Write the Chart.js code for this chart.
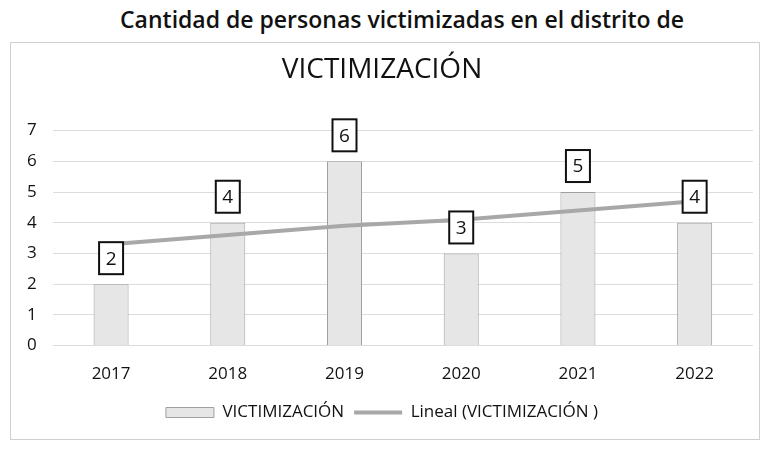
<!DOCTYPE html>
<html>
<head>
<meta charset="utf-8">
<script src="https://cdn.jsdelivr.net/npm/chart.js@4"></script>
<style>
  body { margin: 0; background: #fff; width: 779px; height: 450px; overflow: hidden; position: relative; font-family: "Open Sans", sans-serif; }
  #caption { position: absolute; left: 120px; top: 3px; font-size: 23px; font-weight: 600; color: #111; white-space: nowrap; }
  #box { position: absolute; left: 10px; top: 42px; width: 748px; height: 396px; border: 1px solid #d0d0d0; }
</style>
</head>
<body>
<div id="caption">Cantidad de personas victimizadas en el distrito de</div>
<div id="box"><canvas id="myChart"></canvas></div>
<script>
var years = ["2017", "2018", "2019", "2020", "2021", "2022"];
var victimizacion = [2, 4, 6, 3, 5, 4];
var lineal = [3.3, 3.6, 3.9, 4.1, 4.4, 4.7];

// boxed value labels above the bars
var boxLabels = {
  id: "boxLabels",
  afterDatasetsDraw(chart) {
    var ctx = chart.ctx;
    var meta = chart.getDatasetMeta(0);
    ctx.save();
    ctx.font = "19px 'Open Sans'";
    ctx.textAlign = "center";
    ctx.textBaseline = "middle";
    meta.data.forEach(function (bar, i) {
      var cx = bar.x, cy = bar.y - 26;
      ctx.fillStyle = "#fff";
      ctx.fillRect(cx - 12, cy - 16, 24, 32);
      ctx.lineWidth = 2;
      ctx.strokeStyle = "#111";
      ctx.strokeRect(cx - 12, cy - 16, 24, 32);
      ctx.fillStyle = "#111";
      ctx.fillText(victimizacion[i], cx, cy + 1);
    });
    ctx.restore();
  }
};

var ctx = document.getElementById("myChart").getContext("2d");
var myChart = new Chart(ctx, {
  type: "bar",
  data: {
    labels: years,
    datasets: [
      {
        label: "VICTIMIZACIÓN",
        data: victimizacion,
        backgroundColor: "#e6e6e6",
        borderColor: "#a0a0a0",
        borderWidth: 1,
        barPercentage: 0.3,
        categoryPercentage: 1,
        order: 2,
        pointStyle: "rect"
      },
      {
        type: "line",
        label: "Lineal (VICTIMIZACIÓN )",
        data: lineal,
        borderColor: "#a8a8a8",
        backgroundColor: "#a8a8a8",
        borderWidth: 4,
        pointRadius: 0,
        order: 1,
        pointStyle: "line"
      }
    ]
  },
  options: {
    responsive: true,
    maintainAspectRatio: false,
    animation: false,
    layout: { padding: { left: 0, right: 6, top: 4, bottom: 8 } },
    plugins: {
      title: {
        display: true,
        text: "VICTIMIZACIÓN",
        color: "#111",
        font: { family: "Open Sans", size: 28, weight: "normal" },
        padding: { top: 6, bottom: 44 }
      },
      legend: {
        position: "bottom",
        labels: {
          color: "#111",
          font: { family: "Open Sans", size: 17 },
          usePointStyle: true,
          pointStyleWidth: 48,
          boxHeight: 10,
          padding: 10,
          sort: function (a, b) { return a.datasetIndex - b.datasetIndex; }
        }
      },
      tooltip: { enabled: false }
    },
    scales: {
      x: {
        grid: { display: false },
        border: { display: false },
        ticks: { color: "#111", font: { family: "Open Sans", size: 17 }, padding: 10 }
      },
      y: {
        min: 0,
        max: 7,
        ticks: { stepSize: 1, color: "#111", font: { family: "Open Sans", size: 17 }, padding: 16 },
        grid: { color: "#dcdcdc", drawTicks: false },
        border: { display: false }
      }
    }
  },
  plugins: [boxLabels]
});
</script>
</body>
</html>
